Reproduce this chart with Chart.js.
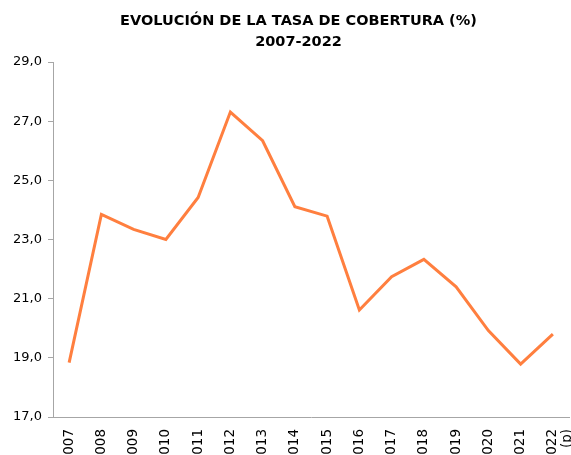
<!DOCTYPE html>
<html><head><meta charset="utf-8">
<script src="https://cdn.jsdelivr.net/npm/chart.js@4/dist/chart.umd.min.js"></script>
<style>html,body{margin:0;padding:0;background:#fff;overflow:hidden;width:571px;height:455px}canvas{display:block}</style>
</head><body>
<canvas id="c" width="571" height="462"></canvas>
<script>
const years = ['2007','2008','2009','2010','2011','2012','2013','2014','2015','2016','2017','2018','2019','2020','2021',['2022','(p)']];
const tasaCobertura = [18.84,23.85,23.34,23.0,24.42,27.31,26.34,24.11,23.79,20.62,21.74,22.33,21.40,19.92,18.79,19.80];
const titleLines = ['EVOLUCIÓN DE LA TASA DE COBERTURA (%)','2007-2022'];
const yMin = 17, yMax = 29, yStep = 2;
const axisColor = '#a6a6a6';
const titleShift = {
  id: 'titleShift',
  afterLayout(chart) { if (chart.titleBlock) { chart.titleBlock.left = 28; } }
};
new Chart(document.getElementById('c'), {
  type: 'line',
  data: { labels: years, datasets: [{ data: tasaCobertura, borderColor: '#FF7F3F', borderWidth: 3, pointRadius: 0, tension: 0, fill: false }] },
  plugins: [titleShift],
  options: {
    responsive: false, animation: false,
    layout: { padding: { left: 0, right: 2, top: 0, bottom: 0 } },
    plugins: {
      legend: { display: false }, tooltip: { enabled: false },
      title: { display: true, text: titleLines, color: '#000', font: { family: 'DejaVu Sans', size: 14.5, weight: 'bold', lineHeight: 1.45 }, padding: { top: 11, bottom: 9 } }
    },
    scales: {
      x: {
        offset: true,
        grid: { display: false, drawOnChartArea: false, drawTicks: true, tickLength: 5, tickColor: axisColor },
        border: { display: true, color: axisColor, width: 1 },
        ticks: { color: '#000', font: { family: 'DejaVu Sans', size: 13.5, lineHeight: 1.1 }, maxRotation: 90, minRotation: 90, autoSkip: false, padding: 7 },
        afterFit: s => { s.height = 45; s.paddingLeft = 0; s.paddingRight = 0; }
      },
      y: {
        min: yMin, max: yMax,
        grid: { drawOnChartArea: false, drawTicks: true, tickLength: 5, tickColor: axisColor },
        border: { display: true, color: axisColor, width: 1 },
        ticks: { stepSize: yStep, color: '#000', font: { family: 'DejaVu Sans', size: 13 }, padding: 6, callback: v => v.toFixed(1).replace('.', ',') },
        afterFit: s => { s.width = 53; }
      }
    }
  }
});
</script>
</body></html>
